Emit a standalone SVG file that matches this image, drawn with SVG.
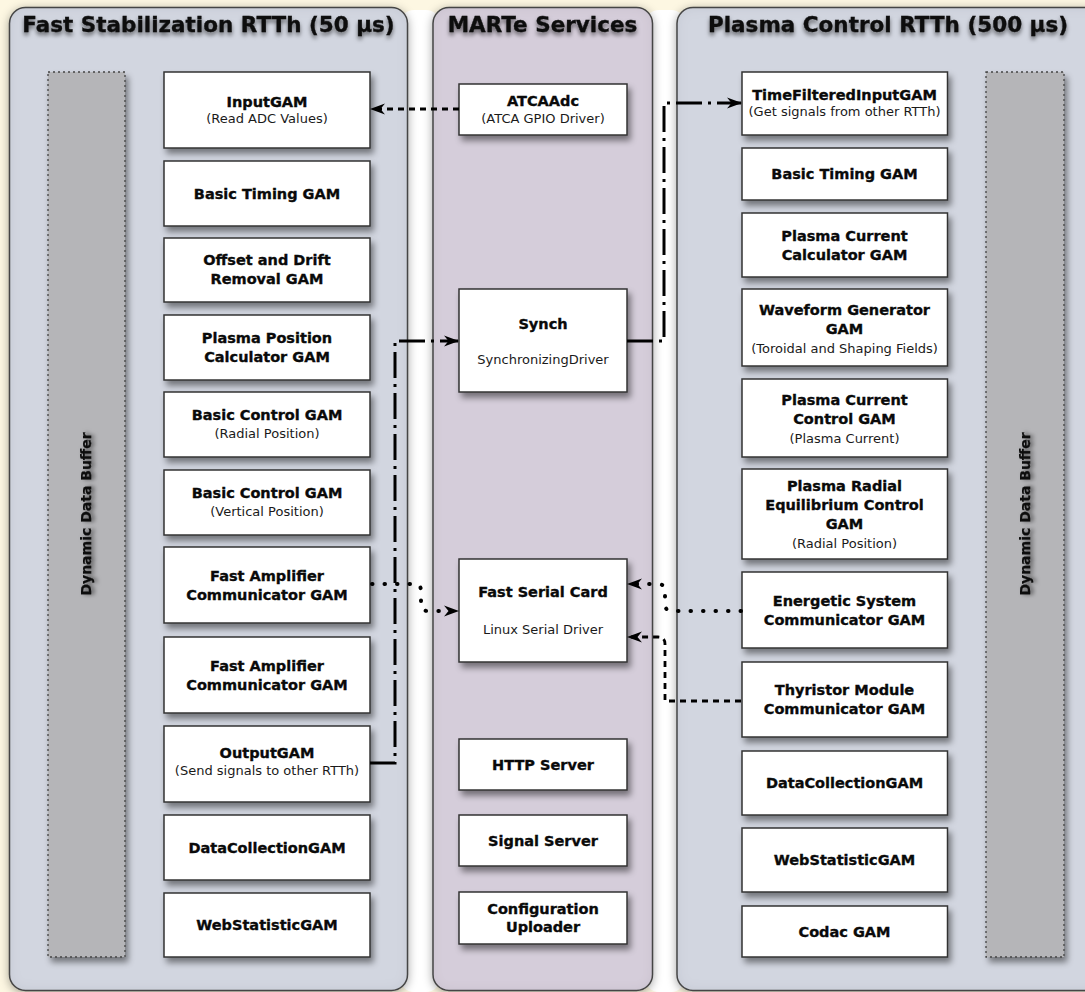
<svg xmlns="http://www.w3.org/2000/svg" width="1085" height="992" viewBox="0 0 1085 992">
  <defs>
    <style>
      .hdr { font-family: "DejaVu Sans", sans-serif; font-weight: bold; font-size: 21.5px; text-anchor: middle; fill: #0d0d0d; stroke: #0d0d0d; stroke-width: 0.3; }
      .t { font-family: "DejaVu Sans", sans-serif; font-weight: bold; font-size: 14.5px; text-anchor: middle; fill: #0a0a0a; stroke: #0a0a0a; stroke-width: 0.35; }
      .s { font-family: "DejaVu Sans", sans-serif; font-size: 13px; text-anchor: middle; fill: #1a1a1a; }
      .buf { font-family: "DejaVu Sans", sans-serif; font-weight: bold; font-size: 14px; text-anchor: middle; fill: #111; stroke: #111; stroke-width: 0.25; }
      .box { fill: #ffffff; stroke: #333; stroke-width: 1.5; filter: url(#boxShadow); }
      .panel { stroke: #4a4a4a; stroke-width: 1.5; filter: url(#panelFx); }
      .bufbox { fill: #b5b5b8; stroke: #444; stroke-width: 1.3; stroke-dasharray: 2 3; filter: url(#boxShadow); }
      .conn { fill: none; stroke: #000; stroke-width: 3; }
      .dashed { stroke-dasharray: 6 5; stroke-width: 2.8; }
      .dashdot { stroke-dasharray: 26 6 3 6; }
      .dotted { stroke-dasharray: 0.5 12; stroke-linecap: round; stroke-width: 4; }
    </style>
    <filter id="boxShadow" x="-10%" y="-10%" width="130%" height="140%">
      <feDropShadow dx="3" dy="5" stdDeviation="3" flood-color="#000" flood-opacity="0.45"/>
    </filter>
    <!-- soft outer shadow plus darkened inner rim for the thread containers -->
    <filter id="panelFx" x="-6%" y="-3%" width="112%" height="106%">
      <feComponentTransfer in="SourceAlpha" result="inv">
        <feFuncA type="table" tableValues="1 0"/>
      </feComponentTransfer>
      <feGaussianBlur in="inv" stdDeviation="6" result="invBlur"/>
      <feFlood flood-color="#000" flood-opacity="0.16"/>
      <feComposite in2="invBlur" operator="in" result="rim"/>
      <feComposite in="rim" in2="SourceAlpha" operator="in" result="inner"/>
      <feGaussianBlur in="SourceAlpha" stdDeviation="5" result="outBlur"/>
      <feOffset in="outBlur" dy="2" result="outOff"/>
      <feFlood flood-color="#000" flood-opacity="0.35"/>
      <feComposite in2="outOff" operator="in" result="outer"/>
      <feMerge>
        <feMergeNode in="outer"/>
        <feMergeNode in="SourceGraphic"/>
        <feMergeNode in="inner"/>
      </feMerge>
    </filter>
    <filter id="textShadow" x="-10%" y="-30%" width="120%" height="180%">
      <feDropShadow dx="0" dy="3" stdDeviation="2.2" flood-color="#000" flood-opacity="0.55"/>
    </filter>
    <marker id="arrow" markerUnits="userSpaceOnUse" markerWidth="16" markerHeight="12" refX="14" refY="6" orient="auto">
      <path d="M0,0.5 L15,6 L0,11.5 L4.5,6 Z" fill="#000"/>
    </marker>
  </defs>

  <!-- page background and the light strips between the three threads -->
  <rect x="0" y="0" width="1085" height="992" fill="#fdf7e2"/>
  <rect x="400" y="10" width="40" height="982" rx="14" fill="#ffffff"/>
  <rect x="645" y="10" width="40" height="982" rx="14" fill="#ffffff"/>

  <!-- thread containers -->
  <g id="panels">
    <g id="panel-fast">
      <rect class="panel" x="9.5" y="7.5" width="398" height="983" rx="16" fill="#d2d6e0"/>
      <text class="hdr" x="208.5" y="32" filter="url(#textShadow)">Fast Stabilization RTTh (50 µs)</text>
    </g>
    <g id="panel-services">
      <rect class="panel" x="433" y="7.5" width="219.5" height="983" rx="16" fill="#d5cdda"/>
      <text class="hdr" x="542.5" y="32" filter="url(#textShadow)">MARTe Services</text>
    </g>
    <g id="panel-plasma">
      <rect class="panel" x="677" y="7.5" width="430" height="983" rx="16" fill="#d2d6e0"/>
      <text class="hdr" x="888" y="32" filter="url(#textShadow)">Plasma Control RTTh (500 µs)</text>
    </g>
  </g>

  <!-- dynamic data buffers -->
  <g id="ddb-fast">
    <rect class="bufbox" x="48" y="72" width="77" height="885"/>
    <text class="buf" transform="translate(91,514) rotate(-90)" filter="url(#textShadow)">Dynamic Data Buffer</text>
  </g>
  <g id="ddb-plasma">
    <rect class="bufbox" x="986" y="72" width="78" height="885"/>
    <text class="buf" transform="translate(1030,514) rotate(-90)" filter="url(#textShadow)">Dynamic Data Buffer</text>
  </g>

  <!-- Fast Stabilization RTTh GAMs -->
  <g id="fs-input">
    <rect class="box" x="164" y="72" width="206" height="76"/>
    <text class="t" x="267" y="106.5">InputGAM</text>
    <text class="s" x="267" y="122.5">(Read ADC Values)</text>
  </g>
  <g id="fs-timing">
    <rect class="box" x="164" y="161" width="206" height="65"/>
    <text class="t" x="267" y="198.5">Basic Timing GAM</text>
  </g>
  <g id="fs-offset">
    <rect class="box" x="164" y="238" width="206" height="64"/>
    <text class="t" x="267" y="265">Offset and Drift</text>
    <text class="t" x="267" y="284">Removal GAM</text>
  </g>
  <g id="fs-position">
    <rect class="box" x="164" y="315" width="206" height="65"/>
    <text class="t" x="267" y="343">Plasma Position</text>
    <text class="t" x="267" y="362">Calculator GAM</text>
  </g>
  <g id="fs-control-radial">
    <rect class="box" x="164" y="392" width="206" height="65"/>
    <text class="t" x="267" y="419.5">Basic Control GAM</text>
    <text class="s" x="267" y="437.5">(Radial Position)</text>
  </g>
  <g id="fs-control-vertical">
    <rect class="box" x="164" y="470" width="206" height="65"/>
    <text class="t" x="267" y="497.5">Basic Control GAM</text>
    <text class="s" x="267" y="515.5">(Vertical Position)</text>
  </g>
  <g id="fs-amplifier-1">
    <rect class="box" x="164" y="547" width="206" height="76"/>
    <text class="t" x="267" y="580.5">Fast Amplifier</text>
    <text class="t" x="267" y="599.5">Communicator GAM</text>
  </g>
  <g id="fs-amplifier-2">
    <rect class="box" x="164" y="637" width="206" height="76"/>
    <text class="t" x="267" y="670.5">Fast Amplifier</text>
    <text class="t" x="267" y="689.5">Communicator GAM</text>
  </g>
  <g id="fs-output">
    <rect class="box" x="164" y="726" width="206" height="76"/>
    <text class="t" x="267" y="758">OutputGAM</text>
    <text class="s" x="267" y="774.5">(Send signals to other RTTh)</text>
  </g>
  <g id="fs-datacollection">
    <rect class="box" x="164" y="815" width="206" height="65"/>
    <text class="t" x="267" y="852.5">DataCollectionGAM</text>
  </g>
  <g id="fs-webstatistic">
    <rect class="box" x="164" y="893" width="206" height="64"/>
    <text class="t" x="267" y="930">WebStatisticGAM</text>
  </g>

  <!-- MARTe services -->
  <g id="svc-atcaadc">
    <rect class="box" x="459" y="84" width="168" height="51"/>
    <text class="t" x="543" y="106">ATCAAdc</text>
    <text class="s" x="543" y="122.5">(ATCA GPIO Driver)</text>
  </g>
  <g id="svc-synch">
    <rect class="box" x="459" y="289" width="168" height="103"/>
    <text class="t" x="543" y="329">Synch</text>
    <text class="s" x="543" y="364">SynchronizingDriver</text>
  </g>
  <g id="svc-serial">
    <rect class="box" x="459" y="559" width="168" height="103"/>
    <text class="t" x="543" y="597">Fast Serial Card</text>
    <text class="s" x="543" y="633.5">Linux Serial Driver</text>
  </g>
  <g id="svc-http">
    <rect class="box" x="459" y="739" width="168" height="51"/>
    <text class="t" x="543" y="769.5">HTTP Server</text>
  </g>
  <g id="svc-signal">
    <rect class="box" x="459" y="815" width="168" height="51"/>
    <text class="t" x="543" y="845.5">Signal Server</text>
  </g>
  <g id="svc-config">
    <rect class="box" x="459" y="892" width="168" height="52"/>
    <text class="t" x="543" y="913.5">Configuration</text>
    <text class="t" x="543" y="931.5">Uploader</text>
  </g>

  <!-- Plasma Control RTTh GAMs -->
  <g id="pc-input">
    <rect class="box" x="742" y="72" width="205.5" height="63"/>
    <text class="t" x="844.5" y="100">TimeFilteredInputGAM</text>
    <text class="s" x="844.5" y="115.5">(Get signals from other RTTh)</text>
  </g>
  <g id="pc-timing">
    <rect class="box" x="742" y="148" width="205.5" height="52"/>
    <text class="t" x="844.5" y="179">Basic Timing GAM</text>
  </g>
  <g id="pc-current-calc">
    <rect class="box" x="742" y="213" width="205.5" height="64"/>
    <text class="t" x="844.5" y="240.5">Plasma Current</text>
    <text class="t" x="844.5" y="259.5">Calculator GAM</text>
  </g>
  <g id="pc-waveform">
    <rect class="box" x="742" y="289" width="205.5" height="77"/>
    <text class="t" x="844.5" y="314.5">Waveform Generator</text>
    <text class="t" x="844.5" y="333.5">GAM</text>
    <text class="s" x="844.5" y="352.5">(Toroidal and Shaping Fields)</text>
  </g>
  <g id="pc-current-control">
    <rect class="box" x="742" y="379" width="205.5" height="78"/>
    <text class="t" x="844.5" y="405">Plasma Current</text>
    <text class="t" x="844.5" y="424">Control GAM</text>
    <text class="s" x="844.5" y="443">(Plasma Current)</text>
  </g>
  <g id="pc-radial-control">
    <rect class="box" x="742" y="469" width="205.5" height="90"/>
    <text class="t" x="844.5" y="491">Plasma Radial</text>
    <text class="t" x="844.5" y="510">Equilibrium Control</text>
    <text class="t" x="844.5" y="529">GAM</text>
    <text class="s" x="844.5" y="548">(Radial Position)</text>
  </g>
  <g id="pc-energetic">
    <rect class="box" x="742" y="572" width="205.5" height="76"/>
    <text class="t" x="844.5" y="605.5">Energetic System</text>
    <text class="t" x="844.5" y="624.5">Communicator GAM</text>
  </g>
  <g id="pc-thyristor">
    <rect class="box" x="742" y="662" width="205.5" height="75"/>
    <text class="t" x="844.5" y="695">Thyristor Module</text>
    <text class="t" x="844.5" y="714">Communicator GAM</text>
  </g>
  <g id="pc-datacollection">
    <rect class="box" x="742" y="751" width="205.5" height="64"/>
    <text class="t" x="844.5" y="788">DataCollectionGAM</text>
  </g>
  <g id="pc-webstatistic">
    <rect class="box" x="742" y="828" width="205.5" height="64"/>
    <text class="t" x="844.5" y="865">WebStatisticGAM</text>
  </g>
  <g id="pc-codac">
    <rect class="box" x="742" y="906" width="205.5" height="51"/>
    <text class="t" x="844.5" y="937">Codac GAM</text>
  </g>

  <!-- signal paths -->
  <g id="connectors">
    <path class="conn dashed" d="M459,109 H371" marker-end="url(#arrow)"/>
    <path class="conn dashdot" d="M627,341 H664 V103 H741" marker-end="url(#arrow)"/>
    <path class="conn dashdot" d="M370,763 H395 V341 H458" marker-end="url(#arrow)"/>
    <path class="conn dotted" d="M372,584 H414 Q421,584 421,591 V604 Q421,611 428,611 H458" marker-end="url(#arrow)"/>
    <path class="conn dotted" d="M741,611 H672 Q665,611 665,604 V591 Q665,584 658,584 H628" marker-end="url(#arrow)"/>
    <path class="conn dashed" d="M741,701 H665 V644 Q665,637 658,637 H628" marker-end="url(#arrow)"/>
  </g>
</svg>
